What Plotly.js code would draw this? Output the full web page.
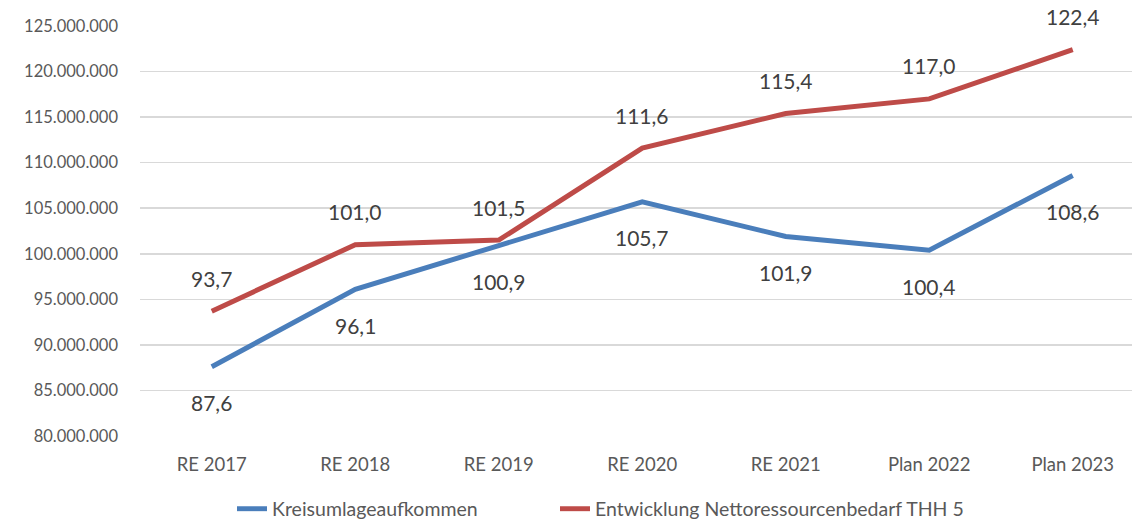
<!DOCTYPE html>
<html>
<head>
<meta charset="utf-8">
<script src="https://cdn.plot.ly/plotly-3.0.1.min.js"></script>
<style>html,body{margin:0;padding:0;background:#fff;}#chart{width:1132px;height:523px;}</style>
</head>
<body>
<div id="chart"></div>
<script>
const categories = ["RE 2017","RE 2018","RE 2019","RE 2020","RE 2021","Plan 2022","Plan 2023"];
const kreisumlage = [87600000, 96100000, 100900000, 105700000, 101900000, 100400000, 108600000];
const nettoressourcen = [93700000, 101000000, 101500000, 111600000, 115400000, 117000000, 122400000];
const yTickVals = [80000000,85000000,90000000,95000000,100000000,105000000,110000000,115000000,120000000,125000000];
const yTickText = ["80.000.000","85.000.000","90.000.000","95.000.000","100.000.000","105.000.000","110.000.000","115.000.000","120.000.000","125.000.000"];
const seriesNames = ["Kreisumlageaufkommen","Entwicklung Nettoressourcenbedarf THH 5"];

const fmt = v => (v/1e6).toFixed(1).replace('.', ',');
const xIdx = categories.map((c,i)=>i);

const traces = [
  {x: xIdx, y: kreisumlage, name: seriesNames[0], type:'scatter', mode:'lines',
   line:{color:'#4A7EBB', width:5}, legend:'legend'},
  {x: xIdx, y: nettoressourcen, name: seriesNames[1], type:'scatter', mode:'lines',
   line:{color:'#BE4B48', width:5}, legend:'legend2'}
];

const FAM = 'Lato, "Liberation Sans", sans-serif';
const annFont = {family:FAM, size:21, color:'#404040'};
const annotations = [];
kreisumlage.forEach((v,i)=>annotations.push({x:i, y:v, text:fmt(v), showarrow:false, yshift:-36, yanchor:'middle', font:annFont}));
nettoressourcen.forEach((v,i)=>annotations.push({x:i, y:v, text:fmt(v), showarrow:false, yshift:33, yanchor:'middle', font:annFont}));

const legendCommon = {orientation:'h', xref:'container', yref:'container', xanchor:'left', yanchor:'middle',
  y:(523-509)/523, font:{size:19.5, color:'#595959'}, bgcolor:'rgba(0,0,0,0)'};

const layout = {
  width:1132, height:523,
  margin:{l:140, r:0, t:26, b:87, autoexpand:false},
  paper_bgcolor:'#fff', plot_bgcolor:'#fff',
  font:{family:FAM, size:16, color:'#595959'},
  xaxis:{range:[-0.5, 6.413], tickvals:xIdx, ticktext:categories, showgrid:false, zeroline:false,
         showline:false, ticks:'', ticklabelstandoff:15, tickfont:{size:18.5, color:'#595959'}, fixedrange:true},
  yaxis:{range:[80000000,125000000], tickvals:yTickVals, ticktext:yTickText, showgrid:true,
         gridcolor:'#D9D9D9', gridwidth:1.5, zeroline:false, showline:false, ticks:'',
         ticklabelstandoff:21, tickfont:{size:16.5, color:'#595959'}},
  showlegend:true,
  legend:Object.assign({}, legendCommon, {x:232/1132}),
  legend2:Object.assign({}, legendCommon, {x:555/1132}),
  annotations: annotations
};

Plotly.newPlot('chart', traces, layout, {displayModeBar:false, staticPlot:true});
</script>
</body>
</html>
